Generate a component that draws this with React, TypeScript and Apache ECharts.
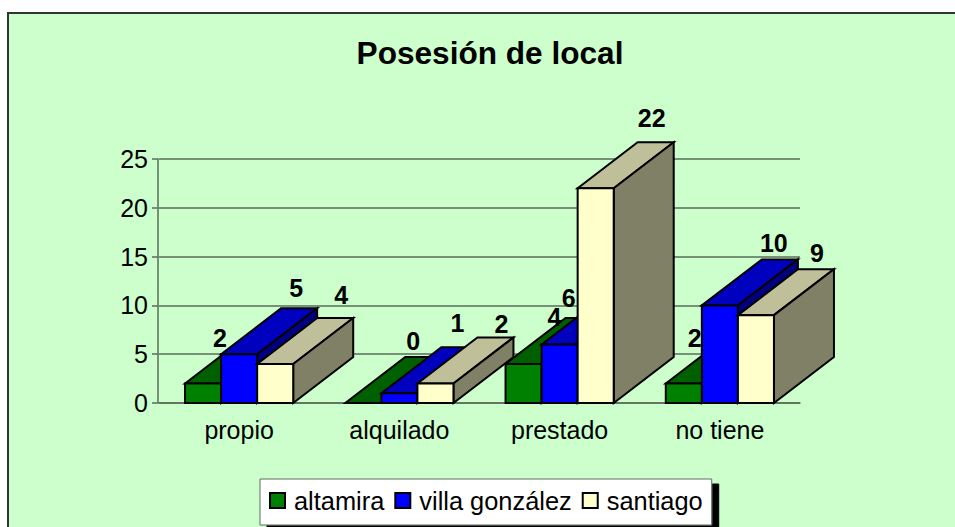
import React, { useEffect, useRef } from "react";
import * as echarts from "echarts";

const categories = ["propio", "alquilado", "prestado", "no tiene"];
const seriesNames = ["altamira", "villa gonz\u00e1lez", "santiago"];
const altamira = [2, 0, 4, 2];
const villaGonzalez = [5, 1, 6, 10];
const santiago = [4, 2, 22, 9];
const seriesValues = [altamira, villaGonzalez, santiago];

const faceColors = [
  { front: "#008000", top: "#006000", side: "#004000" },
  { front: "#0000FF", top: "#0000BF", side: "#000080" },
  { front: "#FFFFCC", top: "#BFBF99", side: "#808066" },
];

// Excel's hand-placed data label nudges, relative to the back centre of each bar's top
const labelNudges = [
  [[-43, 1], [-10, -16], [-29, -1], [-49, 1]],
  [[-3, -20], [-2, -24], [-51, 0], [-6, -16]],
  [[6, -23], [6, -13], [-4, -24], [1, -16]],
];

const FONT = '"Liberation Sans", Arial, sans-serif';
const DEPTH_X = 60;
const DEPTH_Y = 46;
const BAR_SHARE = 36 / 160;
const LINE = { stroke: "#000", lineWidth: 2, lineJoin: "miter" as const };
const GRID_LINE = { color: "#5a6e5a", width: 1.5 };

function renderBar(params: any, api: any) {
  const s = params.seriesIndex;
  const cat = api.value(0);
  const val = api.value(1);
  const [cx, yTop] = api.coord([cat, val]);
  const [, yBase] = api.coord([cat, 0]);
  const w = api.size([1, 0])[0] * BAR_SHARE;
  const x0 = cx + (s - 1.5) * w;
  const x1 = x0 + w;
  const colors = faceColors[s];
  const base = (cat * 3 + s) * 10;
  const [nx, ny] = labelNudges[s][cat];
  return {
    type: "group",
    children: [
      {
        type: "polygon",
        z2: base,
        shape: { points: [[x0, yTop], [x0 + DEPTH_X, yTop - DEPTH_Y], [x1 + DEPTH_X, yTop - DEPTH_Y], [x1, yTop]] },
        style: { fill: colors.top, ...LINE },
      },
      {
        type: "polygon",
        z2: base + 1,
        shape: { points: [[x1, yTop], [x1 + DEPTH_X, yTop - DEPTH_Y], [x1 + DEPTH_X, yBase - DEPTH_Y], [x1, yBase]] },
        style: { fill: colors.side, ...LINE },
      },
      {
        type: "polygon",
        z2: base + 2,
        shape: { points: [[x0, yTop], [x1, yTop], [x1, yBase], [x0, yBase]] },
        style: { fill: colors.front, ...LINE },
      },
      {
        type: "text",
        z2: base + 3,
        style: {
          text: String(val),
          x: (x0 + x1) / 2 + DEPTH_X + nx,
          y: yTop - DEPTH_Y + ny,
          fill: "#000",
          font: `bold 25px ${FONT}`,
          align: "center",
          verticalAlign: "middle",
        },
      },
    ],
  };
}

export default function App() {
  const ref = useRef<HTMLDivElement>(null);
  useEffect(() => {
    document.body.style.margin = "0";
    const chart = echarts.init(ref.current!, undefined, { renderer: "svg" });
    chart.setOption({
      animation: false,
      backgroundColor: "#FFFFFF",
      graphic: [
        {
          type: "rect",
          z: -1,
          silent: true,
          shape: { x: 8, y: 13, width: 960, height: 530 },
          style: { fill: "#CCFFCC", stroke: "#333333", lineWidth: 2 },
        },
      ],
      title: {
        text: "Posesi\u00f3n de local",
        left: 485,
        top: 32,
        textAlign: "center",
        textStyle: { fontFamily: FONT, fontWeight: "bold", fontSize: 31.6, color: "#000" },
      },
      grid: { left: 159, top: 159, width: 641, height: 244 },
      xAxis: {
        type: "category",
        data: categories,
        axisLine: { show: true, lineStyle: GRID_LINE },
        axisTick: { show: false },
        axisLabel: { color: "#000", fontFamily: FONT, fontSize: 25, margin: 14 },
      },
      yAxis: {
        type: "value",
        min: 0,
        max: 25,
        interval: 5,
        offset: 1,
        axisLine: { show: true, lineStyle: GRID_LINE },
        axisTick: { show: true, length: 6, lineStyle: GRID_LINE },
        axisLabel: { color: "#000", fontFamily: FONT, fontSize: 25, margin: 10 },
        splitLine: { show: true, lineStyle: GRID_LINE },
      },
      legend: {
        left: 260,
        top: 479,
        orient: "horizontal",
        padding: [9, 9, 12, 9],
        itemWidth: 15,
        itemHeight: 15,
        itemGap: 10,
        icon: "rect",
        backgroundColor: "#FFFFFF",
        borderColor: "#5a6e5a",
        borderWidth: 1,
        shadowColor: "#000",
        shadowBlur: 0,
        shadowOffsetX: 7,
        shadowOffsetY: 5,
        selectedMode: false,
        textStyle: { color: "#000", fontFamily: FONT, fontSize: 25.4, padding: [0, 0, 0, 4] },
        data: seriesNames,
      },
      series: seriesValues.map((values, i) => ({
        type: "custom",
        name: seriesNames[i],
        renderItem: renderBar,
        clip: false,
        encode: { x: 0, y: 1 },
        itemStyle: { color: faceColors[i].front, borderColor: "#000", borderWidth: 1.5 },
        data: values.map((v, c) => [c, v]),
      })),
    });
    return () => chart.dispose();
  }, []);
  return <div ref={ref} style={{ position: "absolute", left: 0, top: 0, width: 955, height: 527 }} />;
}
